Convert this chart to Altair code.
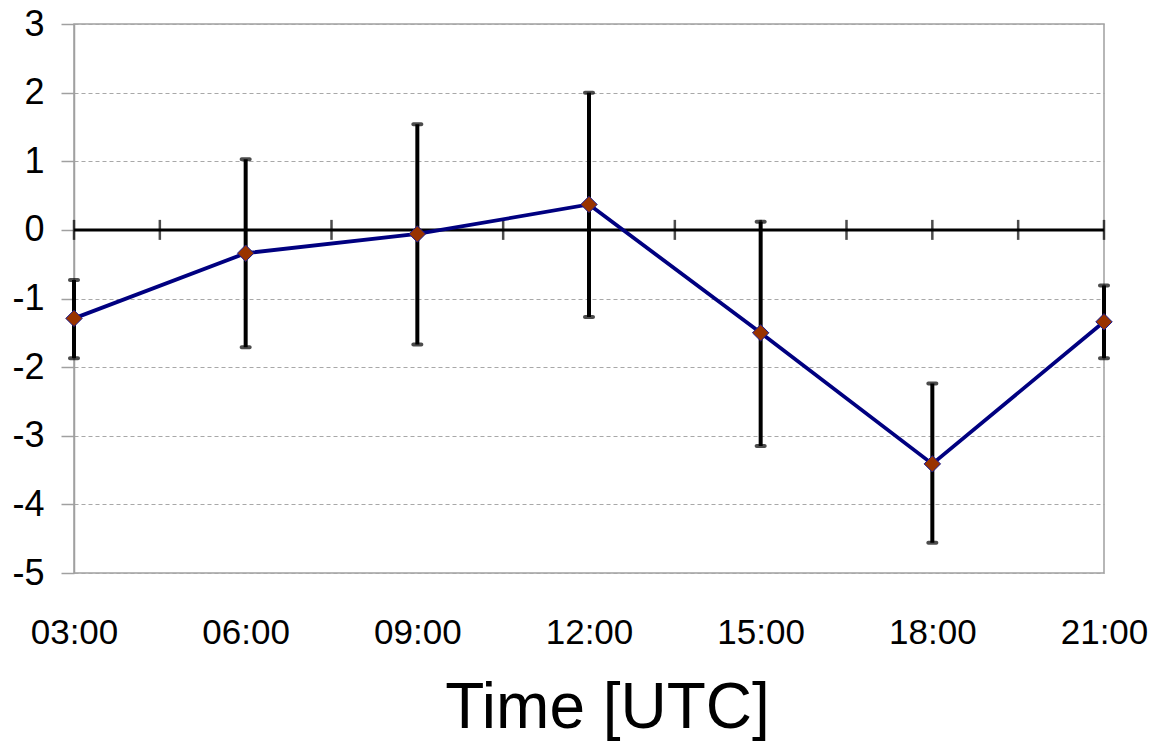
import altair as alt
import pandas as pd

# Data
times = ["03:00", "06:00", "09:00", "12:00", "15:00", "18:00", "21:00"]
hours = [3, 6, 9, 12, 15, 18, 21]
mean_vals = [-1.29, -0.34, -0.06, 0.37, -1.50, -3.41, -1.34]
upper_vals = [-0.73, 1.03, 1.54, 2.00, 0.12, -2.24, -0.81]
lower_vals = [-1.87, -1.71, -1.67, -1.27, -3.15, -4.56, -1.87]
zero_ticks = [3, 4.5, 6, 7.5, 9, 10.5, 12, 13.5, 15, 16.5, 18, 19.5, 21]
y_ticks = [-5, -4, -3, -2, -1, 0, 1, 2, 3]

df = pd.DataFrame({"time": times, "hour": hours, "mean": mean_vals,
                   "upper": upper_vals, "lower": lower_vals})
df_ticks = pd.DataFrame({"hour": zero_ticks, "zero": [0] * len(zero_ticks)})
df_zero = pd.DataFrame({"hour": [3], "hour2": [21], "zero": [0]})

FONT = "Liberation Sans"

x_scale = alt.Scale(domain=[3, 21], nice=False, zero=False)
y_scale = alt.Scale(domain=[-5, 3], nice=False, zero=False)

x_axis = alt.Axis(
    values=hours,
    labelExpr="(datum.value < 10 ? '0' : '') + datum.value + ':00'",
    labelFlush=False, labelOverlap=False,
    ticks=False, tickSize=0, domain=False, grid=False,
    labelFont=FONT, labelFontSize=35, labelColor="black", labelPadding=42,
    title="Time [UTC]", titleFont=FONT, titleFontSize=64, titleFontWeight="normal",
    titleColor="black", titleBaseline="alphabetic", titleY=154, titleX=533,
    titleAlign="center", titleAnchor="start",
)
y_axis = alt.Axis(
    values=y_ticks, title=None,
    labelExpr="'' + datum.value",
    labelFont=FONT, labelFontSize=36, labelColor="black", labelPadding=17,
    labelFlush=False, labelOverlap=False,
    tickColor="#a0a0a0", tickSize=13, tickWidth=1.5,
    domainColor="#a0a0a0", domainWidth=1.5,
    grid=True, gridColor="#a8a8a8", gridDash=[4, 3], gridWidth=1.2,
)

base = alt.Chart(df)

axes_layer = base.mark_line(opacity=0).encode(
    x=alt.X("hour:Q", scale=x_scale, axis=x_axis),
    y=alt.Y("mean:Q", scale=y_scale, axis=y_axis),
)

zero_line = alt.Chart(df_zero).mark_rule(color="black", strokeWidth=3).encode(
    x=alt.X("hour:Q", scale=x_scale),
    x2="hour2:Q",
    y=alt.Y("zero:Q", scale=y_scale),
)

zero_tick_marks = alt.Chart(df_ticks).mark_tick(
    orient="vertical", color="black", size=20, thickness=2.5
).encode(
    x=alt.X("hour:Q", scale=x_scale),
    y=alt.Y("zero:Q", scale=y_scale),
)

err_rule = base.mark_rule(color="black", strokeWidth=4).encode(
    x=alt.X("hour:Q", scale=x_scale),
    y=alt.Y("lower:Q", scale=y_scale),
    y2="upper:Q",
)

cap_hi = base.mark_tick(orient="horizontal", color="black", size=12,
                        thickness=4, cornerRadius=2).encode(
    x=alt.X("hour:Q", scale=x_scale),
    y=alt.Y("upper:Q", scale=y_scale),
)
cap_lo = base.mark_tick(orient="horizontal", color="black", size=12,
                        thickness=4, cornerRadius=2).encode(
    x=alt.X("hour:Q", scale=x_scale),
    y=alt.Y("lower:Q", scale=y_scale),
)

line = base.mark_line(color="#000080", strokeWidth=3.8).encode(
    x=alt.X("hour:Q", scale=x_scale),
    y=alt.Y("mean:Q", scale=y_scale),
)

points = base.mark_point(shape="diamond", filled=True, fill="#993300",
                         stroke="#1a1a90", strokeWidth=1, size=270,
                         opacity=1).encode(
    x=alt.X("hour:Q", scale=x_scale),
    y=alt.Y("mean:Q", scale=y_scale),
)

chart = alt.layer(
    axes_layer, zero_line, zero_tick_marks, err_rule, cap_hi, cap_lo, line, points
).properties(
    width=1030, height=549,
    autosize=alt.AutoSizeParams(type="none"),
    padding={"left": 66, "top": 16, "right": 45, "bottom": 168},
    background="white",
).configure_view(
    stroke="#a0a0a0", strokeWidth=1.5
)

chart.save("out.html", embed_options={"renderer": "svg", "actions": False})
